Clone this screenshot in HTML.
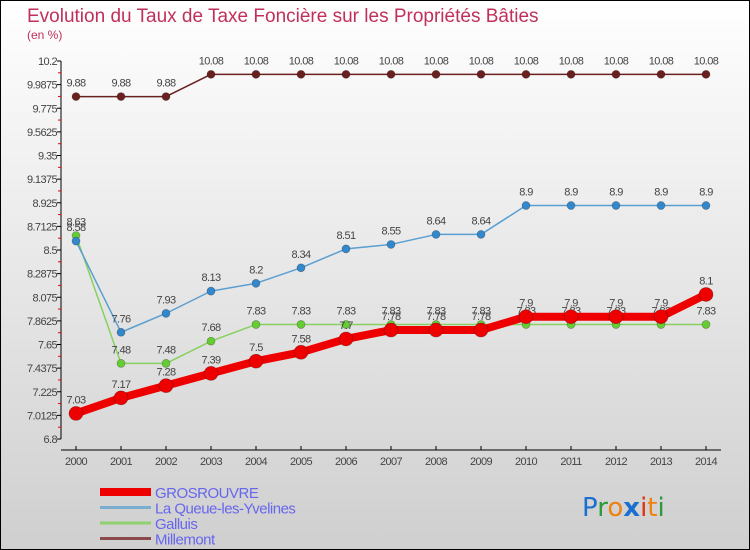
<!DOCTYPE html>
<html><head><meta charset="utf-8"><style>
body{margin:0;width:750px;height:550px;overflow:hidden}
svg{display:block;font-family:"Liberation Sans",sans-serif}
</style></head><body>
<svg id="c" width="750" height="550" xmlns="http://www.w3.org/2000/svg">
<defs><linearGradient id="bg" x1="0" y1="0" x2="0" y2="1"><stop offset="0" stop-color="#ffffff"/><stop offset="1" stop-color="#cfcfcf"/></linearGradient></defs>
<rect x="0.5" y="0.5" width="749" height="549" fill="url(#bg)" stroke="#000"/>
<text x="27" y="22" font-size="19" fill="#c0305a">Evolution du Taux de Taxe Foncière sur les Propriétés Bâties</text>
<text x="27" y="39" font-size="12" fill="#c0305a">(en %)</text>
<g id="axes"></g><g id="series"></g><g id="legend"></g>
<g font-size="26" font-family="DejaVu Sans,sans-serif">
<text x="582" y="516"><tspan fill="#1a6fd0">P</tspan><tspan fill="#2a9a3a">r</tspan><tspan fill="#f08010">o</tspan><tspan fill="#1a6fd0" font-weight="bold">x</tspan><tspan fill="#e03010">i</tspan><tspan fill="#f08010">t</tspan><tspan fill="#2a9a3a">i</tspan></text>
</g>
</svg>
<script>
const years=[2000,2001,2002,2003,2004,2005,2006,2007,2008,2009,2010,2011,2012,2013,2014];
const grosrouvre=[7.03,7.17,7.28,7.39,7.5,7.58,7.7,7.78,7.78,7.78,7.9,7.9,7.9,7.9,8.1];
const queue=[8.58,7.76,7.93,8.13,8.2,8.34,8.51,8.55,8.64,8.64,8.9,8.9,8.9,8.9,8.9];
const galluis=[8.63,7.48,7.48,7.68,7.83,7.83,7.83,7.83,7.83,7.83,7.83,7.83,7.83,7.83,7.83];
const millemont=[9.88,9.88,9.88,10.08,10.08,10.08,10.08,10.08,10.08,10.08,10.08,10.08,10.08,10.08,10.08];
const yTicks=["6.8","7.0125","7.225","7.4375","7.65","7.8625","8.075","8.2875","8.5","8.7125","8.925","9.1375","9.35","9.5625","9.775","9.9875","10.2"];
const names=["GROSROUVRE","La Queue-les-Yvelines","Galluis","Millemont"];
const NS="http://www.w3.org/2000/svg";
const yMin=6.8,yMax=10.2;
const X=i=>76+i*45;
const Y=v=>439-(v-yMin)/(yMax-yMin)*378;
function mk(p,t,a){const e=document.createElementNS(NS,t);for(const k in a)e.setAttribute(k,a[k]);p.appendChild(e);return e;}
const ax=document.getElementById('axes');
const yl=mk(ax,'line',{x1:61,y1:Y(yMax),x2:61,y2:Y(yMin),stroke:'#000'});


yTicks.forEach((t,i)=>{const y=Y(+t);
 mk(ax,'line',{x1:57,y1:y,x2:61,y2:y,stroke:'#000'});
 if(i<yTicks.length-1)mk(ax,'line',{x1:58,y1:Y(+t+0.10625),x2:61,y2:Y(+t+0.10625),stroke:'#e00'});
 const tx=mk(ax,'text',{x:57,y:y+4,'font-size':11,fill:'#444','text-anchor':'end','letter-spacing':'-0.6'});tx.textContent=t;
 
 });
const xl=mk(ax,'line',{x1:61,y1:450,x2:721,y2:450,stroke:'#000'});


years.forEach((yr,i)=>{mk(ax,'line',{x1:X(i),y1:446,x2:X(i),y2:450,stroke:'#000'});
 const tx=mk(ax,'text',{x:X(i),y:465,'font-size':11,fill:'#444','text-anchor':'middle','letter-spacing':'-0.6'});tx.textContent=yr;
 
 });
const sg=document.getElementById('series');
const defs=[[millemont,'#6b2020','#6b2020',1.5,4,'series-millemont'],[galluis,'#88d060','#66cc33',1.5,4,'series-galluis'],[queue,'#5a9fd0','#3388cc',1.5,4,'series-queue-les-yvelines'],[grosrouvre,'#ee0000','#ee0000',8,7,'series-grosrouvre']];
defs.forEach(([d,lc,pc,w,r,nm])=>{const g=mk(sg,'g',{});
 
 
 mk(g,'polyline',{points:d.map((v,i)=>X(i)+','+Y(v)).join(' '),fill:'none',stroke:lc,'stroke-width':w,'stroke-linejoin':'round'});
 d.forEach((v,i)=>{const c=mk(g,'circle',{cx:X(i),cy:Y(v),r:r,fill:pc,stroke:'rgba(0,0,0,0.3)','stroke-width':0.7});
  
  
  const t=mk(g,'text',{x:X(i),y:Y(v)-10,'font-size':11,fill:'#444','text-anchor':'middle','letter-spacing':'-0.6'});t.textContent=String(v);});
});
const lg=document.getElementById('legend');
[['#ee0000',8],['#7aaed0',3],['#90d070',3],['#8a4a4a',3]].forEach(([c,w],i)=>{const y=492+i*15.5;
 const g=mk(lg,'g',{});
 
 
 mk(g,'line',{x1:100,y1:y,x2:151,y2:y,stroke:c,'stroke-width':w});
 const t=mk(g,'text',{x:155,y:y+6,'font-size':15,fill:'#6666ee','letter-spacing':'-0.5'});t.textContent=names[i];});
</script>
</body></html>
